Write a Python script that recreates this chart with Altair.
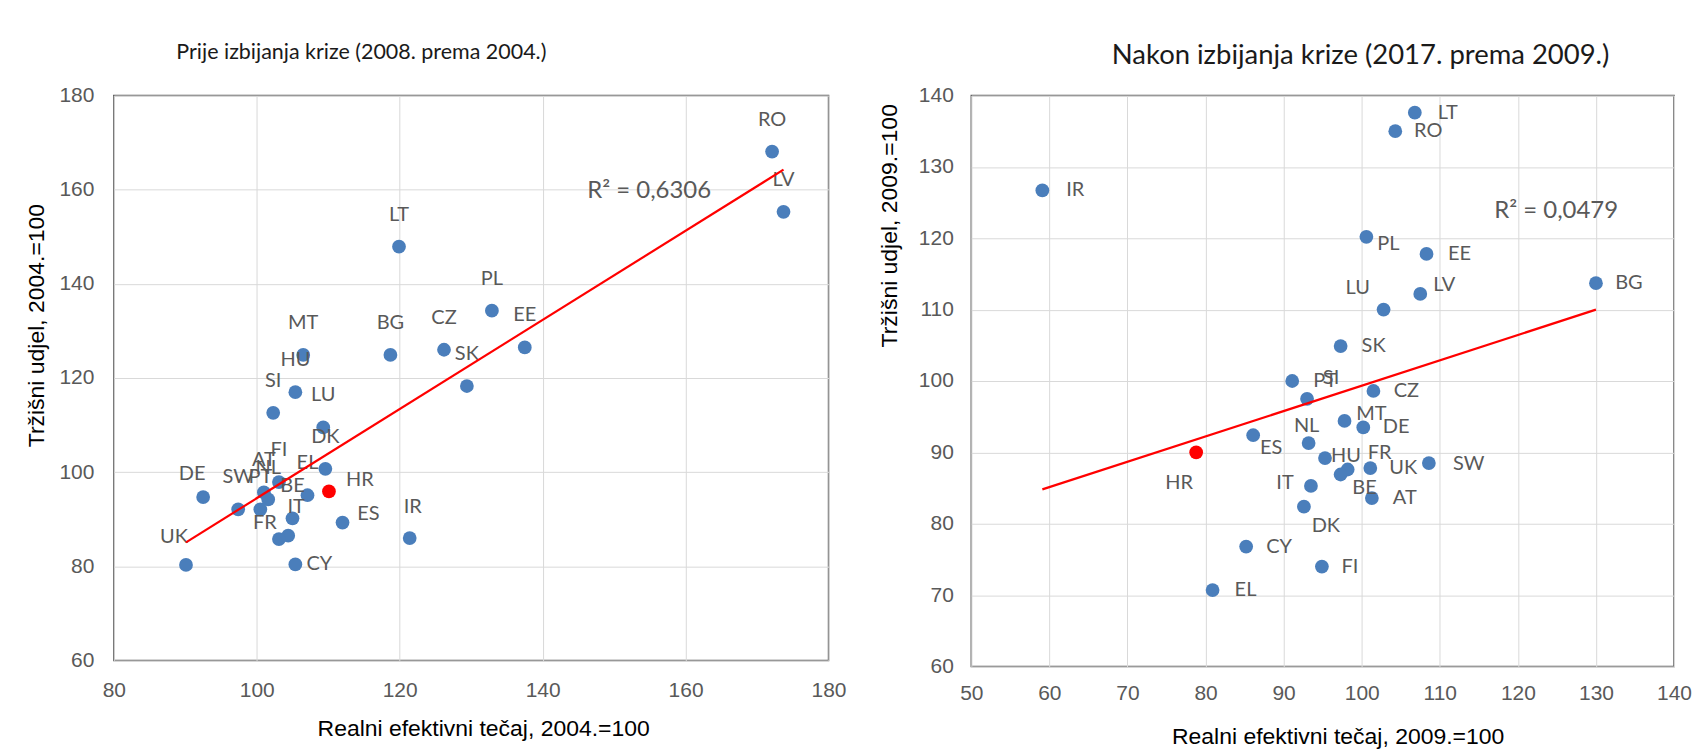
import altair as alt
import pandas as pd

# ---------------- data ----------------
# Left panel: Prije izbijanja krize (2008. prema 2004.)
left_countries = ["RO", "LV", "LT", "PL", "EE", "CZ", "SK", "BG", "MT", "HU", "SI", "LU", "DK", "DE",
                  "SW", "UK", "PT", "AT", "NL", "FI", "EL", "HR", "BE", "IT", "FR", "ES", "CY", "IR"]
left_reer = [172.1, 173.7, 119.9, 132.9, 137.5, 126.2, 129.4, 118.7, 106.5, 105.4, 102.3, 109.3, 109.6, 92.5,
             97.4, 90.1, 100.5, 101.0, 101.6, 103.1, 107.1, 110.1, 105.0, 104.4, 103.1, 112.0, 105.4, 121.4]
left_share = [168.1, 155.3, 147.9, 134.3, 126.5, 126.0, 118.3, 124.9, 124.9, 117.0, 112.6, 109.5, 100.7, 94.7,
              92.1, 80.3, 92.1, 95.7, 94.2, 97.9, 95.1, 95.9, 90.2, 86.5, 85.8, 89.3, 80.4, 86.0]
left_xticks = [80, 100, 120, 140, 160, 180]
left_yticks = [60, 80, 100, 120, 140, 160, 180]
left_r2 = "R² = 0,6306"
left_r2_pos = (154.9, 159.7)

# Right panel: Nakon izbijanja krize (2017. prema 2009.)
right_countries = ["LT", "RO", "IR", "PL", "EE", "BG", "LV", "LU", "SK", "PT", "SI", "CZ", "MT", "DE",
                   "ES", "NL", "HR", "HU", "FR", "BE", "UK", "SW", "AT", "IT", "DK", "CY", "FI", "EL"]
right_reer = [106.8, 104.3, 59.1, 100.6, 108.3, 130.0, 107.5, 102.8, 97.3, 91.1, 93.0, 101.5, 97.8, 100.2,
              86.1, 93.2, 78.8, 95.3, 98.2, 97.3, 101.1, 108.6, 101.3, 93.5, 92.6, 85.2, 94.9, 80.9]
right_share = [137.6, 135.0, 126.7, 120.2, 117.8, 113.7, 112.2, 110.0, 104.9, 100.0, 97.5, 98.6, 94.4, 93.5,
               92.4, 91.3, 90.0, 89.2, 87.6, 86.9, 87.8, 88.5, 83.6, 85.3, 82.4, 76.8, 74.0, 70.7]
right_xticks = [50, 60, 70, 80, 90, 100, 110, 120, 130, 140]
right_yticks = [60, 70, 80, 90, 100, 110, 120, 130, 140]
right_r2 = "R² = 0,0479"
right_r2_pos = (124.9, 123.8)

highlight = "HR"

# ---------------- layout of data labels (pixel offsets) ----------------
left_label_default = (0, -32)
left_label_offsets = {"DE": (-11, -23), "UK": (-12, -28), "FR": (-14, -16), "HR": (31, -11),
                      "ES": (26, -9), "CY": (24, 0), "IT": (8, -29), "IR": (3, -31)}
right_label_default = (33, 0)
right_label_offsets = {"SI": (24, -21), "MT": (27, -7), "ES": (18, 13), "NL": (-2, -17),
                       "HR": (-17, 31), "HU": (21, -2), "FR": (32, -17), "BE": (24, 14),
                       "IT": (-26, -3), "DK": (22, 19), "PL": (22, 7), "LV": (24, -9),
                       "LU": (-26, -22), "SW": (40, 1), "FI": (28, 0)}

BLUE = "#4A7EBB"
RED = "#FF0000"
LABEL_FONT = "Lato"
AXIS_FONT = "Liberation Sans"


def panel(countries, reer, share, xdom, ydom, xticks, yticks, w, h, xtitle, ytitle,
          title, title_size, title_dx, title_offset, r2_text, r2_pos,
          lab_default, lab_offsets, ylab_pad, ytitle_pad, xlab_pad, xtitle_pad,
          xtitle_x, ytitle_y):
    df = pd.DataFrame({"country": countries, "reer": reer, "share": share})
    df["dx"] = [lab_offsets.get(c, lab_default)[0] for c in countries]
    df["dy"] = [lab_offsets.get(c, lab_default)[1] for c in countries]
    kx = (xdom[1] - xdom[0]) / w
    ky = (ydom[1] - ydom[0]) / h

    xscale = alt.Scale(domain=xdom, nice=False, zero=False)
    yscale = alt.Scale(domain=ydom, nice=False, zero=False)
    xaxis = alt.Axis(values=xticks, title=xtitle, grid=True, domain=False, ticks=False, tickSize=0,
                     labelPadding=xlab_pad, titlePadding=xtitle_pad, labelFlush=False, labelOverlap=False,
                     titleX=xtitle_x)
    yaxis = alt.Axis(values=yticks, title=ytitle, grid=True, domain=False, ticks=False, tickSize=0,
                     labelPadding=ylab_pad, titlePadding=ytitle_pad, labelFlush=False, labelOverlap=False,
                     titleY=ytitle_y)

    base = alt.Chart(df)
    pts = base.mark_circle(size=190, opacity=1).encode(
        x=alt.X("reer:Q", scale=xscale, axis=xaxis),
        y=alt.Y("share:Q", scale=yscale, axis=yaxis),
        color=alt.condition(alt.datum.country == highlight, alt.value(RED), alt.value(BLUE)),
    )
    labels = base.transform_calculate(
        lx=f"datum.reer + datum.dx * {kx}",
        ly=f"datum.share - datum.dy * {ky}",
    ).mark_text(font=LABEL_FONT, fontSize=20, color="#595959", align="center", baseline="middle").encode(
        x=alt.X("lx:Q", scale=xscale),
        y=alt.Y("ly:Q", scale=yscale),
        text="country:N",
    )
    trend = base.transform_regression("reer", "share").mark_line(color=RED, strokeWidth=2.2).encode(
        x=alt.X("reer:Q", scale=xscale),
        y=alt.Y("share:Q", scale=yscale),
    )
    r2df = pd.DataFrame({"x": [r2_pos[0]], "y": [r2_pos[1]], "t": [r2_text]})
    r2 = alt.Chart(r2df).mark_text(font=LABEL_FONT, fontSize=24, color="#595959",
                                   align="center", baseline="middle").encode(
        x=alt.X("x:Q", scale=xscale), y=alt.Y("y:Q", scale=yscale), text="t:N")

    return alt.layer(pts, labels, trend, r2).properties(
        width=w, height=h,
        title=alt.TitleParams(title, font=LABEL_FONT, fontSize=title_size, fontWeight="normal",
                              color="#1a1a1a", anchor="middle", dx=title_dx, offset=title_offset),
    )


left = panel(left_countries, left_reer, left_share, [80, 180], [60, 180], left_xticks, left_yticks,
             716, 566, "Realni efektivni tečaj, 2004.=100", "Tržišni udjel, 2004.=100",
             "Prije izbijanja krize (2008. prema 2004.)", 21.5, -110, 21,
             left_r2, left_r2_pos,
             left_label_default, left_label_offsets, 20, 10, 19, 17, 370, 230)

right = panel(right_countries, right_reer, right_share, [50, 140], [60, 140], right_xticks, right_yticks,
              704, 572, "Realni efektivni tečaj, 2009.=100", "Tržišni udjel, 2009.=100",
              "Nakon izbijanja krize (2017. prema 2009.)", 27.5, 38, 15,
              right_r2, right_r2_pos,
              right_label_default, right_label_offsets, 18, 17, 16, 22, 367, 130)

chart = alt.hconcat(left, right, spacing=30).properties(
    padding={"left": 17, "top": 32, "right": 5, "bottom": 2}
).configure_view(
    stroke="#595959", strokeWidth=1.5
).configure_axis(
    labelFont=AXIS_FONT, labelFontSize=21, labelColor="#595959",
    titleFont=AXIS_FONT, titleFontSize=23, titleFontWeight="normal", titleColor="#000000",
    gridColor="#d9d9d9", gridWidth=1,
)

chart.save("out.html", embed_options={"renderer": "svg", "actions": False})
